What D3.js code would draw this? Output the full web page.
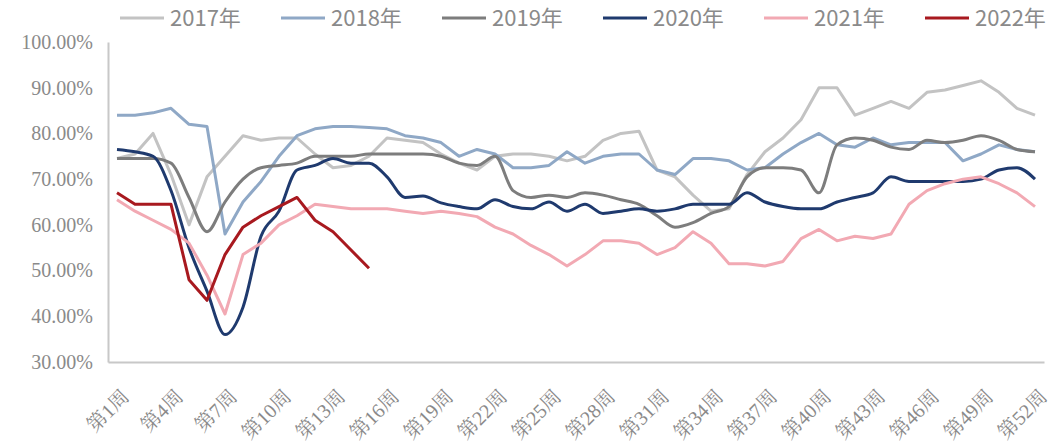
<!DOCTYPE html>
<html>
<head>
<meta charset="utf-8">
<script src="https://cdn.jsdelivr.net/npm/d3@7"></script>
<style>
  body { margin: 0; background: #fff; }
  svg { display: block; }
  .ylab { font-family: "Liberation Serif", "Times New Roman", "DejaVu Serif", serif; }
  .xlab { font-family: "Liberation Serif", "Noto Serif CJK SC", "Noto Sans CJK SC", serif; }
</style>
</head>
<body>
<div id="chart"></div>
<script>
const weeks = d3.range(1, 53);
const tickWeeks = [1, 4, 7, 10, 13, 16, 19, 22, 25, 28, 31, 34, 37, 40, 43, 46, 49, 52];
const yTicks = [30, 40, 50, 60, 70, 80, 90, 100];
const seriesNames = ["2017年", "2018年", "2019年", "2020年", "2021年", "2022年"];

const s2017 = [74.5, 75.5, 80, 71, 60, 70.5, 75, 79.5, 78.5, 79, 79, 75.5, 72.5, 73, 75, 79, 78.5, 78, 75.5, 73.5,
  72, 75, 75.5, 75.5, 75, 74, 75, 78.5, 80, 80.5, 72, 70.5, 66.5, 63, 63.5, 71, 76, 79, 83, 90,
  90, 84, 85.5, 87, 85.5, 89, 89.5, 90.5, 91.5, 89, 85.5, 84];
const s2018 = [84, 84, 84.5, 85.5, 82, 81.5, 58, 65, 69.5, 75, 79.5, 81, 81.5, 81.5, 81.3, 81, 79.5, 79, 78, 75,
  76.5, 75.5, 72.5, 72.5, 73, 76, 73.5, 75, 75.5, 75.5, 72, 71, 74.5, 74.5, 74, 72, 72.5, 75.5, 78, 80,
  77.5, 77, 79, 77.5, 78, 78, 78, 74, 75.5, 77.5, 76.5, 76];
const s2019 = [74.5, 74.5, 74.5, 73.5, 66, 58.5, 65, 70, 72.5, 73, 73.5, 75, 75, 75, 75.5, 75.5, 75.5, 75.5, 75, 73.5,
  73, 75, 67.5, 66, 66.5, 66, 67, 66.5, 65.5, 64.5, 62, 59.5, 60.5, 62.5, 64, 70.5, 72.5, 72.5, 72, 67,
  77.5, 79, 78.5, 77, 76.5, 78.5, 78, 78.5, 79.5, 78.5, 76.5, 76];
const s2020 = [76.5, 76, 75, 67.5, 55, 45.5, 36, 42, 57.5, 63, 72, 73, 74.5, 73.5, 73.5, 70.5, 66, 66.3, 64.8, 64,
  63.5, 65.5, 64, 63.5, 65, 63, 64.5, 62.5, 63, 63.5, 63, 63.5, 64.5, 64.5, 64.5, 67, 65, 64, 63.5, 63.5,
  65, 66, 67, 70.5, 69.5, 69.5, 69.5, 69.5, 70, 72, 72.5, 70];
const s2021 = [65.5, 63, 61, 59, 56, 49, 40.5, 53.5, 56, 60, 62, 64.5, 64, 63.5, 63.5, 63.5, 63, 62.5, 63, 62.5,
  61.8, 59.5, 58, 55.5, 53.5, 51, 53.5, 56.5, 56.5, 56, 53.5, 55, 58.5, 56, 51.5, 51.5, 51, 52, 57, 59,
  56.5, 57.5, 57, 58, 64.5, 67.5, 69, 70, 70.5, 69, 67, 64];
const s2022 = [67, 64.5, 64.5, 64.5, 48, 43.5, 53.5, 59.5, 62, 64, 66, 61, 58.5, 54.5, 50.5];

const colors = ["#c3c3c3", "#8fa8c6", "#7d7d7d", "#1f3a6e", "#f2a9b3", "#a8191f"];
const smooth = [false, false, true, true, false, false];

const allSeries = [s2017, s2018, s2019, s2020, s2021, s2022].map((vals, i) => ({
  name: seriesNames[i],
  color: colors[i],
  smooth: smooth[i],
  values: vals.map((v, j) => ({ week: weeks[j], value: v }))
}));

const W = 1052, H = 446;
const plot = { left: 108, right: 1044, top: 42, bottom: 362 };

const svg = d3.select("#chart")
  .append("svg")
  .attr("width", W)
  .attr("height", H);

const x = d3.scalePoint()
  .domain(weeks)
  .range([plot.left, plot.right])
  .padding(0.5);

const y = d3.scaleLinear()
  .domain([30, 100])
  .range([plot.bottom, plot.top]);

// y axis
const yAxis = svg.append("g")
  .attr("transform", `translate(${plot.left},0)`)
  .call(d3.axisLeft(y).tickValues(yTicks).tickSize(0).tickPadding(15)
    .tickFormat(d => d.toFixed(2) + "%"));
yAxis.attr("font-family", null).attr("font-size", null);
yAxis.select(".domain").attr("stroke", "#c8c8c8").attr("stroke-width", 2);
yAxis.selectAll("text")
  .attr("class", "ylab")
  .attr("fill", "#8a8a8a")
  .style("font-size", "20px");

// x axis
const xAxis = svg.append("g")
  .attr("transform", `translate(0,${plot.bottom})`)
  .call(d3.axisBottom(x).tickValues(tickWeeks).tickSize(0)
    .tickFormat(d => `第${d}周`));
xAxis.attr("font-family", null).attr("font-size", null);
xAxis.select(".domain").attr("stroke", "#c8c8c8").attr("stroke-width", 2);
xAxis.selectAll("text")
  .attr("class", "xlab")
  .attr("x", 0)
  .attr("y", 0)
  .attr("dy", "0.35em")
  .attr("text-anchor", "end")
  .attr("transform", "translate(8,31) rotate(-45)")
  .attr("fill", "#8a8a8a")
  .style("font-size", "20px");

// lines
svg.selectAll(".series")
  .data(allSeries)
  .enter()
  .append("path")
  .attr("class", "series")
  .attr("fill", "none")
  .attr("stroke", d => d.color)
  .attr("stroke-width", 3)
  .attr("stroke-linejoin", "round")
  .attr("d", d => d3.line()
    .x(p => x(p.week))
    .y(p => y(p.value))
    .curve(d.smooth ? d3.curveMonotoneX : d3.curveLinear)(d.values));

// legend
const legend = svg.append("g").attr("id", "legend");
const item = legend.selectAll("g")
  .data(allSeries)
  .enter()
  .append("g")
  .attr("transform", (d, i) => `translate(${120 + i * 161},18)`);

item.append("line")
  .attr("x1", 0).attr("x2", 44)
  .attr("y1", 0).attr("y2", 0)
  .attr("stroke", d => d.color)
  .attr("stroke-width", 3);

item.append("text")
  .attr("x", 50)
  .attr("y", 0)
  .attr("dy", "0.35em")
  .attr("fill", "#8a8a8a")
  .style("font-family", "'Liberation Sans Narrow', 'Noto Sans CJK SC', sans-serif")
  .style("font-size", "22px")
  .text(d => d.name);
</script>
</body>
</html>
